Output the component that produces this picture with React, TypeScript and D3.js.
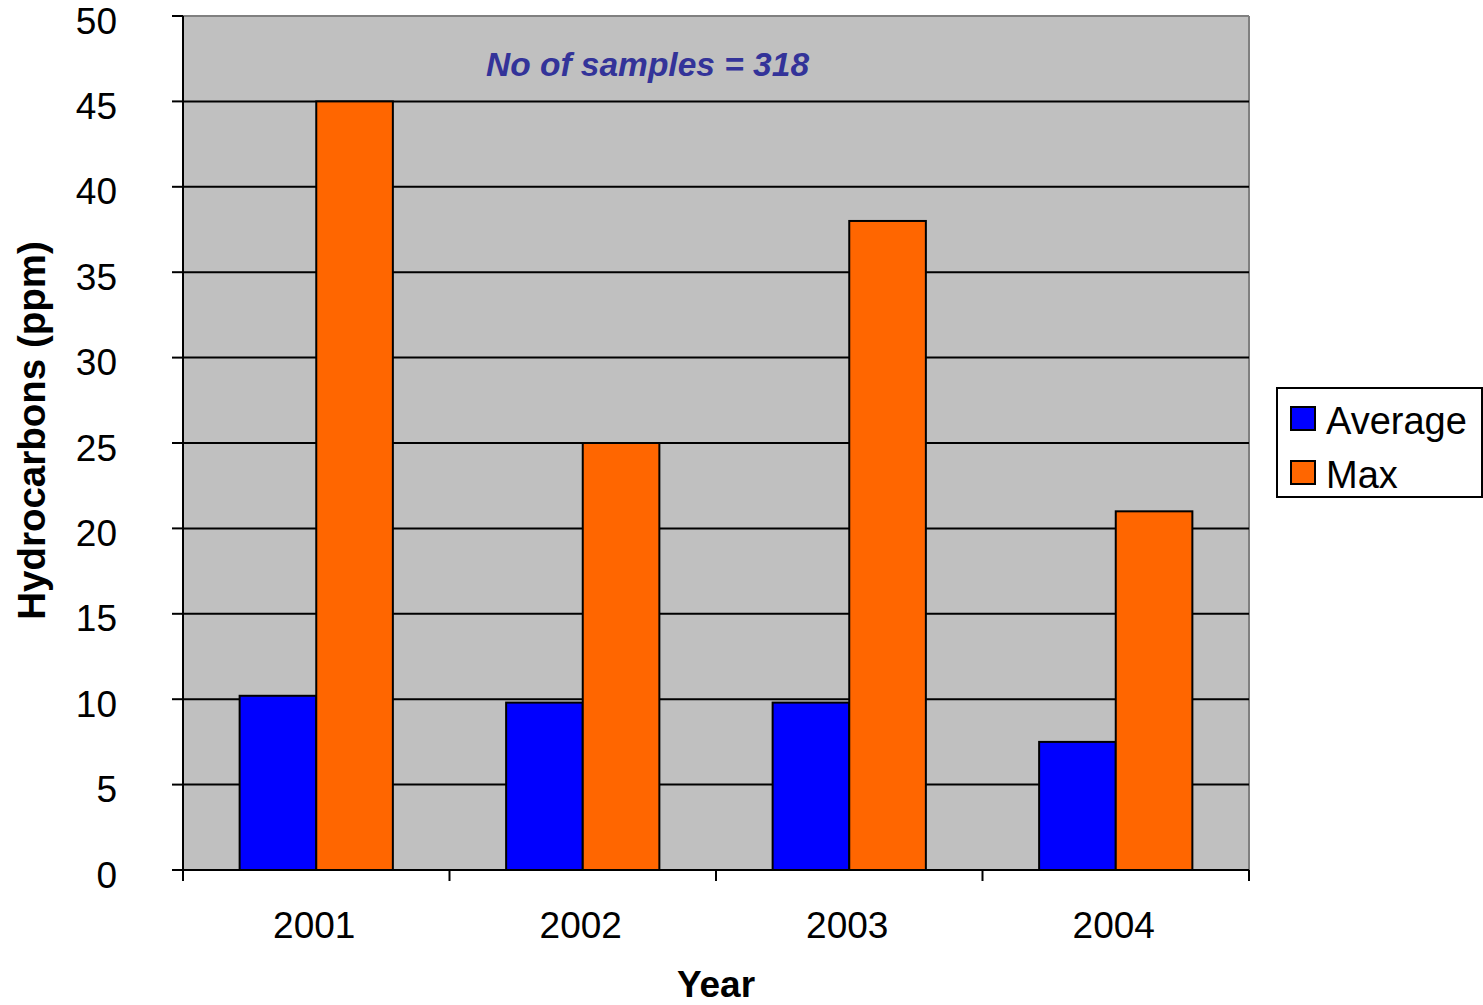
import React from "react";
import * as d3 from "d3";

const years = ["2001", "2002", "2003", "2004"];
const seriesNames = ["Average", "Max"];
const averageValues = [10.2, 9.8, 9.8, 7.5];
const maxValues = [45, 25, 38, 21];
const yTicks = [0, 5, 10, 15, 20, 25, 30, 35, 40, 45, 50];
const colors = ["#0000FF", "#FF6600"];

const FONT = "Arial, 'Liberation Sans', sans-serif";

export default function App() {
  const W = 1483, H = 1005;
  const left = 183, right = 1249, top = 16, bottom = 870;
  const x0 = d3.scaleBand<string>().domain(years).range([left, right]).paddingInner(0).paddingOuter(0);
  const y = d3.scaleLinear().domain([0, 50]).range([bottom, top]);
  const groupW = x0.bandwidth() * 0.575;
  const x1 = d3.scaleBand<string>().domain(seriesNames).range([0, groupW]);
  const groupOffset = (x0.bandwidth() - groupW) / 2;
  const series = [averageValues, maxValues];
  const catEdges = [...years.map((yr) => x0(yr) as number), right];

  return (
    <svg width={W} height={H} style={{ position: "absolute", left: 0, top: 0, background: "#fff" }} fontFamily={FONT}>
      <rect x={left} y={top} width={right - left} height={bottom - top} fill="#C0C0C0" />
      <line x1={left} x2={right} y1={top} y2={top} stroke="#808080" strokeWidth={2} />
      <line x1={right} x2={right} y1={top} y2={bottom} stroke="#808080" strokeWidth={2} />
      {yTicks.filter((t) => t > 0 && t < 50).map((t) => (
        <line key={"g" + t} x1={left} x2={right} y1={y(t)} y2={y(t)} stroke="#000" strokeWidth={2} />
      ))}
      {years.map((yr, i) => (
        <g key={yr}>
          {seriesNames.map((s, j) => (
            <rect
              key={s}
              x={(x0(yr) as number) + groupOffset + (x1(s) as number)}
              y={y(series[j][i])}
              width={x1.bandwidth()}
              height={bottom - y(series[j][i])}
              fill={colors[j]}
              stroke="#000"
              strokeWidth={2}
            />
          ))}
        </g>
      ))}
      <line x1={left} x2={left} y1={top} y2={bottom} stroke="#000" strokeWidth={2} />
      <line x1={left} x2={right} y1={bottom} y2={bottom} stroke="#000" strokeWidth={2} />
      {yTicks.map((t) => (
        <g key={"t" + t}>
          <line x1={left - 11} x2={left} y1={y(t)} y2={y(t)} stroke="#000" strokeWidth={2} />
          <text x={117} y={y(t) + 17.5} textAnchor="end" fontSize={37} fill="#000">{t}</text>
        </g>
      ))}
      {catEdges.map((e, i) => (
        <line key={"xt" + i} x1={e} x2={e} y1={bottom} y2={bottom + 11} stroke="#000" strokeWidth={2} />
      ))}
      {years.map((yr) => (
        <text key={"xl" + yr} x={(x0(yr) as number) + x0.bandwidth() / 2 - 2} y={938} textAnchor="middle" fontSize={37} fill="#000">{yr}</text>
      ))}
      <text x={716} y={997} textAnchor="middle" fontSize={37} fontWeight="bold" fill="#000">Year</text>
      <text transform={`translate(45,${430.5}) rotate(-90)`} textAnchor="middle" fontSize={38.5} fontWeight="bold" fill="#000">Hydrocarbons (ppm)</text>
      <text x={647.5} y={76} textAnchor="middle" fontSize={33.5} fontWeight="bold" fontStyle="italic" fill="#333399">No of samples = 318</text>
      <rect x={1277} y={388} width={205} height={109} fill="#fff" stroke="#000" strokeWidth={2} />
      {seriesNames.map((s, j) => (
        <g key={"lg" + s}>
          <rect x={1291} y={407 + j * 54} width={24} height={23} fill={colors[j]} stroke="#000" strokeWidth={2} />
          <text x={1326} y={434 + j * 54} fontSize={38} fill="#000">{s}</text>
        </g>
      ))}
    </svg>
  );
}
